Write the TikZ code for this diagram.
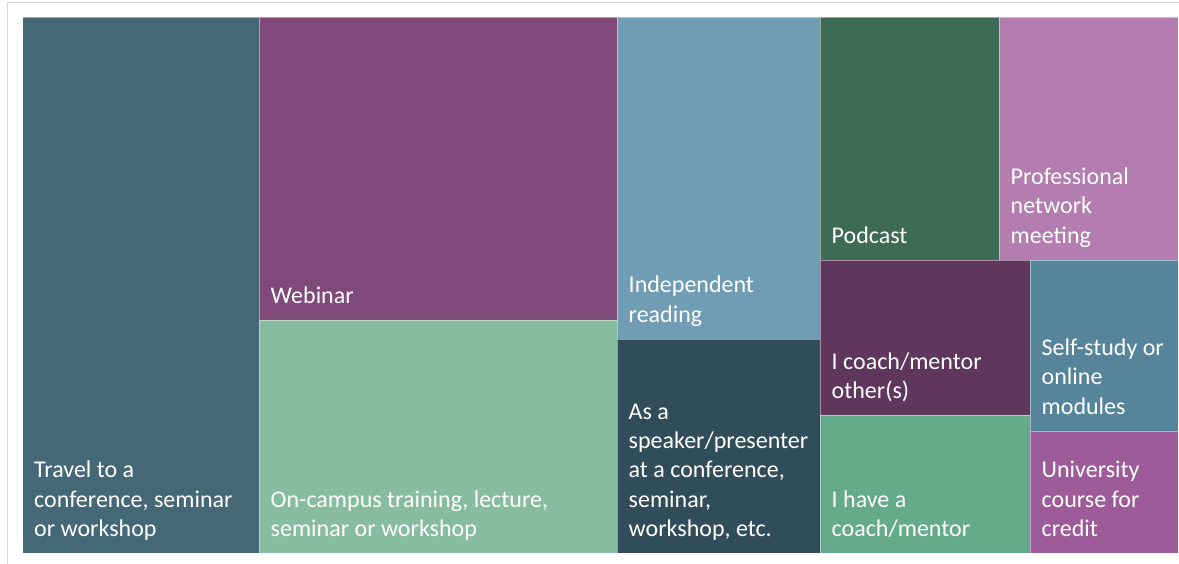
\documentclass[tikz,border=0pt]{standalone}
\usepackage{fontspec}
\setmainfont{Carlito}
\definecolor{cTravel}{HTML}{456877}
\definecolor{cWebinar}{HTML}{7F4A7A}
\definecolor{cCampus}{HTML}{88BCA1}
\definecolor{cReading}{HTML}{709DB3}
\definecolor{cSpeaker}{HTML}{324D5A}
\definecolor{cPodcast}{HTML}{3D6B55}
\definecolor{cNetwork}{HTML}{B37DAF}
\definecolor{cCoachOthers}{HTML}{5F365C}
\definecolor{cHaveCoach}{HTML}{66AA8C}
\definecolor{cSelfStudy}{HTML}{56859B}
\definecolor{cUniversity}{HTML}{9D5C99}
\definecolor{frameGray}{HTML}{D9D9D9}
\tikzset{
  cellbox/.style={draw=white, draw opacity=0.45, line width=0.7pt, inner sep=0pt, outer sep=0pt, anchor=north west},
  celllabel/.style={text=white, align=left, inner sep=0pt, text depth=0pt, anchor=south west,
    font=\fontsize{24}{29.3}\selectfont},
  framerule/.style={draw=frameGray, line width=1pt}
}
\newcommand{\tmcell}[7]{%
  \pgfmathsetmacro{\cw}{#4-#2}\pgfmathsetmacro{\ch}{#5-#3}%
  \node[cellbox, fill=#6, minimum width=\cw pt, minimum height=\ch pt] (#1) at (#2,#3) {};
  \node[celllabel] (#1-lbl) at ([shift={(11.5pt,16.5pt)}]#1.south west) {#7};
}
\begin{document}
\begin{tikzpicture}[x=1pt,y=-1pt]
\useasboundingbox (0,0) rectangle (1179,564);
\fill[white] (0,0) rectangle (1179,564);
\coordinate (fTL) at (7,2.5);
\coordinate (fTR) at (1179,2.5);
\coordinate (fBL) at (7,564);
\draw[framerule] (fTR) -- (fTL) -- (fBL);
\tmcell{travel}{22.5}{17}{259}{553}{cTravel}{Travel to a\\conference, seminar\\or workshop}
\tmcell{webinar}{259}{17}{617}{320}{cWebinar}{Webinar}
\tmcell{campus}{259}{320}{617}{553}{cCampus}{On-campus training, lecture,\\seminar or workshop}
\tmcell{reading}{617}{17}{820}{339}{cReading}{Independent\\reading}
\tmcell{speaker}{617}{339}{820}{553}{cSpeaker}{As a\\speaker/presenter\\at a conference,\\seminar,\\workshop, etc.}
\tmcell{podcast}{820}{17}{999}{260}{cPodcast}{Podcast}
\tmcell{network}{999}{17}{1178}{260}{cNetwork}{Professional\\network\\meeting}
\tmcell{coachothers}{820}{260}{1030}{415}{cCoachOthers}{I coach/mentor\\other(s)}
\tmcell{havecoach}{820}{415}{1030}{553}{cHaveCoach}{I have a\\coach/mentor}
\tmcell{selfstudy}{1030}{260}{1178}{431}{cSelfStudy}{Self-study or\\online\\modules}
\tmcell{university}{1030}{431}{1178}{553}{cUniversity}{University\\course for\\credit}
\end{tikzpicture}
\end{document}
